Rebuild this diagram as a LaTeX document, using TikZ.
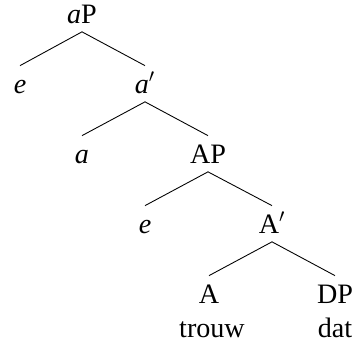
\documentclass[tikz,border=0pt]{standalone}
\usepackage{fontspec}
\setmainfont{Liberation Serif}
\usetikzlibrary{calc}

\begin{document}
\begin{tikzpicture}[font=\fontsize{16}{18}\selectfont]
\tikzset{
  lab/.style ={inner sep=0pt, anchor=base, text height=0.56cm, text depth=0.15cm},
  word/.style={inner sep=0pt, anchor=base},
  br/.style  ={line width=0.5pt}
}
\useasboundingbox (0,0) rectangle (7.12,6.88);
% tree levels
\node (aP)  [lab] at (1.64,6.40) {\textit{a}P};
\node (e1)  [lab] at (0.40,5.00) {\textit{e}};
\node (a1)  [lab] at (2.90,5.00) {\textit{a}$'$};
\node (a)   [lab] at (1.64,3.60) {\textit{a}};
\node (AP)  [lab] at (4.16,3.60) {AP};
\node (e2)  [lab] at (2.90,2.20) {\textit{e}};
\node (A1)  [lab] at (5.44,2.20) {A$'$};
\node (A)   [lab] at (4.18,0.80) {A};
\node (DP)  [lab] at (6.70,0.80) {DP};
\node (w1)  [word] at (4.24,0.12) {trouw};
\node (w2)  [word] at (6.70,0.12) {dat};
% branches
\draw[br] (aP.south) -- (e1.north); \draw[br] (aP.south) -- (a1.north);
\draw[br] (a1.south) -- (a.north);  \draw[br] (a1.south) -- (AP.north);
\draw[br] (AP.south) -- (e2.north); \draw[br] (AP.south) -- (A1.north);
\draw[br] (A1.south) -- (A.north);  \draw[br] (A1.south) -- (DP.north);
\end{tikzpicture}
\end{document}
